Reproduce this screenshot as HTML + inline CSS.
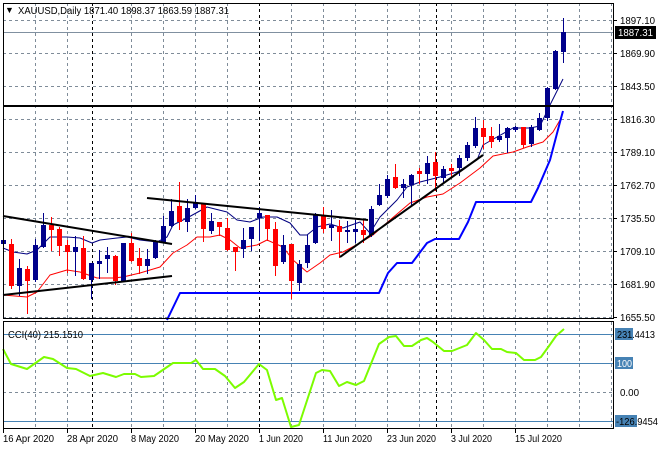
<!DOCTYPE html>
<html><head><meta charset="utf-8"><style>
html,body{margin:0;padding:0;background:#fff;width:660px;height:450px;overflow:hidden}
svg{display:block;font-family:"Liberation Sans","DejaVu Sans",sans-serif}
</style></head><body>
<svg id="s" width="660" height="450" xmlns="http://www.w3.org/2000/svg">
<rect width="660" height="450" fill="#fff"/>
<g id="grid"></g>
<g id="ind"></g>
<g id="cand"></g>
<g id="front"></g>
</svg>
<script>
var NS="http://www.w3.org/2000/svg";
function el(p,t,a,txt){var e=document.createElementNS(NS,t);for(var k in a)e.setAttribute(k,a[k]);if(txt!=null)e.textContent=txt;document.getElementById(p).appendChild(e);return e;}
var gc="#7f8c99";
[20,53,86,119,152,185,218,251,284,317].forEach(function(y){el("grid","line",{x1:3,x2:613,y1:y+.5,y2:y+.5,stroke:gc,"stroke-dasharray":"3,3"});});
for(var x=35;x<613;x+=32){if(x==99)continue;
 el("grid","line",{x1:x+.5,x2:x+.5,y1:3,y2:318,stroke:gc,"stroke-dasharray":"3,3"});
 el("grid","line",{x1:x+.5,x2:x+.5,y1:322,y2:428,stroke:gc,"stroke-dasharray":"3,3"});}
[92,259,436].forEach(function(x){
 el("grid","line",{x1:x+.5,x2:x+.5,y1:3,y2:318,stroke:"#000","stroke-dasharray":"3,3"});
 el("grid","line",{x1:x+.5,x2:x+.5,y1:322,y2:428,stroke:"#000","stroke-dasharray":"3,3"});});
el("grid","line",{x1:3,x2:613,y1:392.5,y2:392.5,stroke:gc,"stroke-dasharray":"3,3"});
[334,363,421].forEach(function(y){el("grid","line",{x1:3,x2:613,y1:y+.5,y2:y+.5,stroke:"#4682b4"});});
el("grid","line",{x1:3,x2:613,y1:32.5,y2:32.5,stroke:"#8090a0"});
function pl(pts,c,w){el("ind","polyline",{points:pts,fill:"none",stroke:c,"stroke-width":w,"stroke-linejoin":"round"});}
pl("3,248 13,252 27,254 37,250 50,237 67,237 80,238 92,243 100,240 117,238 127,237 140,240 157,242 167,237 173,225 187,218 207,207 227,212 237,220 250,222 263,217 277,217 290,223 300,235 307,235 317,227 330,224 343,228 360,222 370,233 380,217 397,200 407,187 420,182 440,177 457,172 477,160 483,145 497,137 513,128 530,128 540,126 550,105 563,79","#000080",1);
pl("3,295 27,297 37,292 50,275 67,270 80,272 97,278 113,278 123,277 140,273 160,267 173,253 187,245 197,237 210,237 220,235 230,240 240,248 257,245 267,240 283,247 293,260 307,272 320,263 330,255 343,252 360,243 373,235 390,220 410,203 427,197 443,194 460,183 480,168 493,156 513,152 527,147 543,142 553,132 560,120 563,112","#ff0000",1);
pl("167,320 180,293 379,293 388,273 397,263 412,263 427,243 435,239 459,239 468,222 476,202 531,202 538,188 550,160 560,122 563,111","#0000ff",2);
var C=[
["b",236,240,244,250],["r",239,244,286,288],["b",259,268,286,295],["r",266,269,281,313],["b",239,245,280,281],
["b",213,225,247,247],["r",217,225,230,250],["r",227,229,246,255],["r",240,245,252,272],["b",236,247,252,275],
["r",236,248,279,279],["b",263,263,280,298],["b",250,261,264,278],["b",247,255,259,272],["r",255,256,281,284],
["b",243,243,281,281],["r",233,243,261,261],["r",248,258,266,273],["b",249,259,266,273],["b",240,242,258,258],
["b",216,226,242,242],["b",199,211,226,226],["r",182,206,222,229],["b",199,208,222,231],["b",195,203,208,208],
["r",203,203,229,241],["b",213,221,231,233],["r",222,222,227,235],["r",218,228,250,250],["r",247,247,252,270],
["b",228,240,249,257],["b",227,227,239,250],["b",207,213,218,240],["r",215,215,229,240],["r",222,229,266,275],
["b",235,245,262,263],["r",244,244,281,298],["b",260,264,283,290],["b",235,245,263,267],["b",213,215,243,243],
["r",207,216,229,232],["b",210,225,228,240],["r",220,226,232,257],["b",221,230,232,242],["b",220,229,232,242],
["r",220,230,235,242],["b",206,209,235,236],["b",184,195,205,205],["b",175,179,196,197],["r",164,177,188,188],
["b",179,184,188,197],["b",174,175,185,205],["r",168,171,174,183],["b",156,163,174,183],["r",152,162,176,190],
["b",166,169,178,182],["r",164,168,171,177],["b",155,158,168,175],["b",142,145,158,160],["b",117,128,146,147],
["r",120,128,137,148],["r",127,136,142,147],["b",124,136,140,141],["b",127,128,138,152],["b",126,127,130,131],
["r",127,127,145,147],["b",125,127,144,146],["b",113,118,130,130],["b",87,88,118,120],["b",50,51,89,89],
["b",18,32,52,62]];
C.forEach(function(c,k){var x=3+8*k;var col=c[0]=="b"?"#00008b":"#ff0000";
 el("cand","line",{x1:x+.5,x2:x+.5,y1:c[1],y2:c[4]+1,stroke:col});
 el("cand","rect",{x:x-2,y:c[2],width:5,height:Math.max(1,c[3]-c[2]),fill:col});});
function bl(a,b,c,d){el("front","line",{x1:a,y1:b,x2:c,y2:d,stroke:"#000","stroke-width":2});}
bl(3,216,172,244);bl(3,295,172,276);bl(147,198,368,220);bl(340,257,483,155);
el("front","line",{x1:3,x2:613,y1:106,y2:106,stroke:"#000","stroke-width":2});
pl("3,349 11,364 27,369 44,357 53,359 67,368 76,369 90,376 103,373 116,377 124,374 135,374 141,377 154,376 173,363 191,363 196,360 203,369 215,369 225,376 235,388 244,382 259,364 267,370 276,400 282,398 291,427 299,425 316,373 322,370 330,371 339,386 347,382 356,385 364,381 379,344 389,337 396,336 404,346 412,346 421,340 427,338 433,342 444,351 452,351 467,345 476,333 484,340 492,349 501,349 507,352 516,353 524,360 535,360 541,357 549,346 556,336 564,329","#7cfc00",2);
el("front","rect",{x:3.5,y:3.5,width:610,height:315,fill:"none",stroke:"#000"});
el("front","rect",{x:3.5,y:321.5,width:610,height:107,fill:"none",stroke:"#000"});
function tx(x,y,s,len,txt,fill){var a={x:x,y:y,"font-size":s,fill:fill||"#000"};if(len){a.textLength=len;a.lengthAdjust="spacingAndGlyphs";}return el("front","text",a,txt);}
var P=[[20,"1897.10"],[53,"1869.90"],[86,"1843.50"],[119,"1816.30"],[152,"1789.10"],[185,"1762.70"],[218,"1735.50"],[251,"1709.10"],[284,"1681.90"],[317,"1655.50"]];
P.forEach(function(p){el("front","line",{x1:613,x2:617,y1:p[0]+.5,y2:p[0]+.5,stroke:"#000"});
 tx(620,p[0]+4,10,35,p[1]);});
el("front","rect",{x:615,y:26,width:41,height:13,fill:"#000"});
tx(618,36,10,35,"1887.31","#fff");
el("front","rect",{x:615,y:328,width:18,height:12,fill:"#4682b4"});
tx(617,338,10,38,"231.4413");
el("front","rect",{x:615,y:357,width:18,height:12,fill:"#4682b4"});
tx(617,367,10,15,"100","#fff");
tx(620,396,10,19,"0.00");
el("front","rect",{x:615,y:415,width:22,height:12,fill:"#4682b4"});
tx(616,425,10,42,"-126.9454");
tx(5,13,9,null,"\u25BC");
tx(18,14,10,211,"XAUUSD,Daily  1871.40 1898.37 1863.59 1887.31");
tx(8,338,10,75,"CCI(40) 215.1510");
var D=[[3,"16 Apr 2020",51],[67,"28 Apr 2020",51],[131,"8 May 2020",48],[195,"20 May 2020",54],[259,"1 Jun 2020",44],[323,"11 Jun 2020",49],[387,"23 Jun 2020",49],[451,"3 Jul 2020",41],[515,"15 Jul 2020",47]];
D.forEach(function(d){el("front","line",{x1:d[0]+.5,x2:d[0]+.5,y1:428,y2:433,stroke:"#000"});
 tx(d[0],442,10,d[2],d[1]);});
</script>
</body></html>
